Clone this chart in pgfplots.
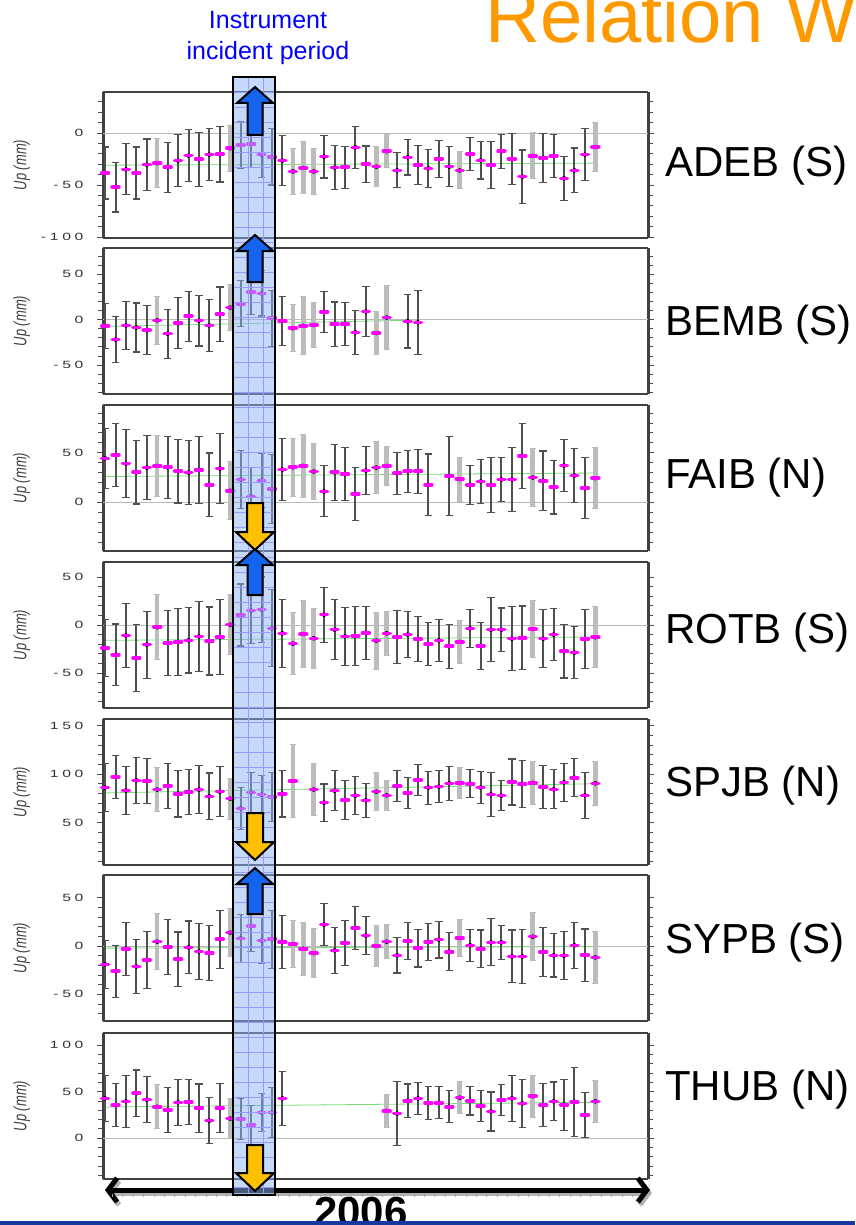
\documentclass[border=0pt]{standalone}
\usepackage{fontspec}
\setmainfont{Liberation Sans}
\newfontfamily\tickfam[FakeStretch=1.5,LetterSpace=35]{Liberation Sans}
\newfontfamily\labfam[FakeStretch=0.72]{Liberation Sans}
\usepackage{pgfplots}
\pgfplotsset{compat=1.18}
\usepackage{pgfplotstable}
\usetikzlibrary{arrows.meta}
\definecolor{upblue}{RGB}{20,100,240}
\definecolor{dnorange}{RGB}{255,192,0}
\definecolor{bandblue}{RGB}{140,180,245}
\definecolor{errdark}{RGB}{80,80,80}
\definecolor{errlight}{RGB}{188,188,188}
\definecolor{fitgreen}{RGB}{120,220,120}
\definecolor{titleorange}{RGB}{255,153,0}
\definecolor{slideblue}{RGB}{25,55,160}
\definecolor{mag}{RGB}{255,0,255}
\definecolor{txtblue}{RGB}{0,0,255}

\pgfplotstableread{
i v e g
0 -38.5 25 0
1 -52 24 0
2 -35 24.5 0
3 -38.5 25 0
4 -30.5 24.7 0
5 -29 23.5 1
6 -33 24 0
7 -26.6 25 0
8 -21.8 25 0
9 -25.3 26 0
10 -20.8 24.7 0
11 -20.5 26.6 0
12 -14.7 22 1
13 -11.5 22.6 0
14 -10.6 22.6 0
15 -20.8 22 0
16 -23 27 0
17 -26.6 24 0
18 -37 22 1
19 -33.6 25 1
20 -37 22 1
21 -22.8 20.5 0
22 -33.3 21 0
23 -33 20 0
24 -13.8 20 0
25 -30 17.5 0
26 -32.4 19.5 1
27 -17.6 15.7 1
28 -36 16.8 0
29 -23.4 17 0
30 -31 18.6 0
31 -34 18.3 0
32 -25 18 0
33 -32.4 19 0
34 -36 17.8 1
35 -20.5 16 0
36 -26.3 18 0
37 -31 22.7 0
38 -17.6 16.3 0
39 -25 24.8 0
40 -42 25.6 0
41 -22 22 1
42 -24 23.7 0
43 -22 20.5 0
44 -43.6 21 0
45 -36 21.5 0
46 -20.8 25 0
47 -13.5 23.5 1
}\dA

\pgfplotstableread{
i v e g
0 -6.8 25 0
1 -22 25.4 0
2 -6.4 26.7 0
3 -8.7 27 0
4 -11.7 27 0
5 -0.8 26.3 1
6 -15.5 27 0
7 -3.8 28 0
8 3.8 27.5 0
9 -1.1 28 0
10 -6.4 29 0
11 6 30 0
12 13.3 25 1
13 17.4 25.4 0
14 30.3 25 0
15 29 25 0
16 1.5 30.7 0
17 -1.5 27 0
18 -9.5 26 1
19 -6.8 32 1
20 -6 25 1
21 8.7 22.7 0
22 -4.9 24.4 0
23 -4.9 24 0
24 -14 24.4 0
25 9 28 0
26 -14.8 24 1
27 2.3 35.6 1
29 -1.9 29.4 0
30 -3 35 0
}\dB

\pgfplotstableread{
i v e g
0 44.3 30 0
1 47.7 31.3 0
2 39 34 0
3 30.3 32 0
4 35 32 0
5 36.7 31 1
6 35.3 31 0
7 31.3 32 0
8 30 32 0
9 32.7 34 0
10 17.7 32 0
11 34 35 0
12 11.7 29 1
13 23 29 0
14 6 29 0
15 22 27.5 0
16 13.3 35 0
17 33 31.3 0
18 35.3 29 1
19 36.7 32 1
20 31 28.3 1
21 11 25.7 0
22 30.3 28 0
23 28.3 26.7 0
24 8.3 27 0
25 32 24.5 0
26 35 26 1
27 36.7 20 1
28 29.3 21 0
29 31.3 21 0
30 31.3 22.3 0
31 17.7 31 0
33 26.3 39.7 0
34 23.3 22 1
35 17.7 19.7 0
36 21 22 0
37 17.7 27.5 0
38 23 22 0
39 23 32.5 0
40 46.7 32.7 0
41 25 29.3 1
42 21.7 30 0
43 15.3 27 0
44 37 26 0
45 27 27 0
46 14.3 31 0
47 24.3 31 1
}\dC

\pgfplotstableread{
i v e g
0 -24 30 0
1 -31 32 0
2 -11 33 0
3 -34.4 35 0
4 -20.5 35 0
5 -2.4 34 1
6 -19 34 0
7 -17.7 35 0
8 -16 34 0
9 -12 36 0
10 -16.7 35.4 0
11 -12.8 39 0
12 0.3 31.4 1
13 10.4 32.3 0
14 15 34 0
15 16 34 0
16 -3.5 40 0
17 -8.7 35.6 0
18 -19.4 32.6 1
19 -9.4 35.4 1
20 -13.9 31 1
21 10.8 28.6 0
22 -4.9 31 0
23 -11.8 30.2 0
24 -11.5 30.7 0
25 -8.3 28 0
26 -16.3 29.7 1
27 -8.7 22.6 1
28 -12.5 28 0
29 -10 23.8 0
30 -14.6 23.4 0
31 -19.8 22.6 0
32 -16 21.7 0
33 -22.2 22.9 0
34 -17.7 22.6 1
35 -3.5 19.8 0
36 -21.9 24.3 0
37 -4.9 33.5 0
38 -4.9 22.6 0
39 -14.2 33 0
40 -13.5 33.3 0
41 -4.2 30 1
42 -14.2 30 0
43 -10 27.4 0
44 -27.4 27.8 0
45 -28.8 27 0
46 -14.6 31 0
47 -12.8 32 1
}\dD

\pgfplotstableread{
i v e g
0 86 25 0
1 97 22.3 0
2 83 25 0
3 93.5 23.7 0
4 93 23.4 0
5 84 22.8 1
6 87.6 23 0
7 79.7 24 0
8 81.4 23.5 0
9 84 25 0
10 77 24 0
11 81.8 26 0
12 74.6 21 1
13 64.6 21.8 0
14 81 20.6 0
15 78.7 19.8 0
16 76.3 25.4 0
17 79.7 24 0
18 92.8 37.8 1
20 84 26.8 1
21 70.5 19.2 0
22 82.8 20.8 0
23 73.2 19.8 0
24 77.7 19.4 0
25 72.9 17.4 0
26 81.8 19.4 1
27 78 15.3 1
28 87.6 16.3 0
29 80.4 16 0
30 94 16 0
31 86 17 0
32 87 16.8 0
33 90.4 17.7 0
34 90.7 15.8 1
35 90 14.3 0
36 86 16.5 0
37 79 23 0
38 77.7 15.5 0
39 91.8 23.7 0
40 89.7 24.4 0
41 91 22 1
42 86.6 21.8 0
43 84.2 20 0
44 91.4 19.4 0
45 96.2 19.6 0
46 78 23.7 0
47 90.4 22.7 1
}\dE

\pgfplotstableread{
i v e g
0 -19 25 0
1 -26 27 0
2 -2.8 27.4 0
3 -21.2 27.8 0
4 -14.6 29.5 0
5 4.5 28.8 1
6 -1 28.6 0
7 -13.5 28 0
8 -1.4 27.3 0
9 -5.6 29.3 0
10 -7.3 28.5 0
11 7 30 0
12 13.9 24.5 1
13 8 24.8 0
14 20.8 26 0
15 5.6 24 0
16 7 30 0
17 4.2 27.8 0
18 2.1 24.6 1
19 -2.8 27.4 1
20 -7.3 25.3 1
21 22.2 22 0
22 -4.5 24 0
23 3.1 22.9 0
24 18.7 22.7 0
25 10.8 20 0
26 0 21.7 1
27 4.5 17.4 1
28 -9.7 18.2 0
29 5.2 18.9 0
30 -2.1 19.6 0
31 4.2 19.6 0
32 6.6 19 0
33 -5.9 19.8 0
34 8.3 19 1
35 0.7 16.8 0
36 -2.8 19.4 0
37 3.8 24.3 0
38 3.8 17.9 0
39 -10.8 27.4 0
40 -10.8 28 0
41 9.7 24.6 1
42 -6.2 25.2 0
43 -9.7 22.4 0
44 -10 25 0
45 0.7 24 0
46 -9.4 27 0
47 -11.8 26.7 1
}\dF

\pgfplotstableread{
i v e g
0 42.7 25 0
1 35.5 23.5 0
2 39.5 27.7 0
3 48.2 25 0
4 41.3 24.6 0
5 33.7 23.5 1
6 30.4 24 0
7 38.4 25 0
8 38.8 24.6 0
9 32.2 26 0
10 18.8 25 0
11 32.2 26.5 0
12 21 21.7 1
13 20.3 21.9 0
14 13.8 21 0
15 27.5 20.3 0
16 27.5 26.6 0
17 42.7 29 0
27 29.3 18 1
28 26.4 34 0
29 40.2 18 0
30 42.7 17 0
31 37.7 17.4 0
32 38 17.4 0
33 33.7 17.4 0
34 43.5 17.4 1
35 40.2 15.4 0
36 34.4 16.8 0
37 28.6 21 0
38 41 16.7 0
39 42.7 25 0
40 37.3 25.7 0
41 45 22.6 1
42 35.5 23 0
43 39.5 20.8 0
44 35.9 27.4 0
45 39.1 37 0
46 24.6 24.4 0
47 39.5 22.6 1
}\dG

\pgfplotsset{
 panel/.style={
  scale only axis, width=545pt, height=146pt,
  xmin=-0.2, xmax=52.05, xtick=\empty,
  ytick distance=50, minor y tick num=4,
  tick align=outside, ytick pos=both, yticklabel pos=left,
  major tick length=6pt, minor tick length=5pt,
  tick style={black!70, line width=0.7pt},
  separate axis lines,
  x axis line style={black!75, line width=1.6pt},
  y axis line style={black!75, line width=3pt},
  /pgf/number format/assume math mode=true,
  yticklabel style={font=\tickfam\fontsize{10.5}{11}\selectfont, text=black!80, xshift=-10pt},
  ylabel={Up (mm)},
  every axis y label/.style={at={(axis description cs:-0.149,0.5)}, rotate=90, anchor=center, font=\labfam\itshape\fontsize{18}{18}\selectfont, text=black!75},
  unbounded coords=discard,
 },
 zeroline/.style={gray!55, line width=0.8pt, forget plot},
 fitline/.style={fitgreen, line width=0.8pt, forget plot},
 darkerr/.style={only marks, mark=none, forget plot,
   restrict expr to domain={\thisrow{g}}{-0.5:0.5},
   error bars/y dir=both, error bars/y explicit,
   error bars/error bar style={errdark, line width=2pt},
   error bars/error mark options={rotate=90, errdark, mark size=3.8pt, line width=1.1pt}},
 lighterr/.style={only marks, mark=none, forget plot,
   restrict expr to domain={\thisrow{g}}{0.5:1.5},
   error bars/y dir=both, error bars/y explicit,
   error bars/error bar style={errlight, line width=4.5pt},
   error bars/error mark options={rotate=90, errlight, mark size=3pt, line width=1pt}},
 pts/.style={only marks, color=mag, mark=-, mark size=3.4pt, mark options={draw=mag, line width=3.6pt, line cap=round}, forget plot},
}

\newcommand\Panel[5]{% top, ymin, ymax, table, fit coords
  \begin{axis}[panel, at={(103pt,-#1pt)}, anchor=north west, ymin=#2, ymax=#3]
  \addplot[zeroline] coordinates {(-0.2,0) (52.05,0)};
  \addplot[fitline] coordinates {#5};
  \addplot[lighterr] table[x=i,y=v,y error=e] {#4};
  \addplot[darkerr] table[x=i,y=v,y error=e] {#4};
  \addplot[pts] table[x=i,y=v] {#4};
  \end{axis}}

\newcommand\UpArr[2]{\filldraw[fill=upblue, draw=black, line width=2pt, line join=miter]
 ({247.5},{-#2}) -- ({247.5},{-#1-16}) -- ({237},{-#1-16}) -- ({255},{-#1}) -- ({273},{-#1-16}) -- ({262.5},{-#1-16}) -- ({262.5},{-#2}) -- cycle;}
\newcommand\DnArr[2]{\filldraw[fill=dnorange, draw=black, line width=2pt, line join=miter]
 ({247},{-#1}) -- ({247},{-#2+18}) -- ({236},{-#2+18}) -- ({255},{-#2}) -- ({274},{-#2+18}) -- ({263},{-#2+18}) -- ({263},{-#1}) -- cycle;}

\begin{document}
\begin{tikzpicture}[x=1pt,y=1pt]
\path[use as bounding box] (0,0) rectangle (855,-1225);

\Panel{92}{-101}{39.4}{\dA}{(0,-31) (47,-29)}
\Panel{248}{-82}{79}{\dB}{(0,-7.5) (30,-0.5)}
\Panel{405}{-49}{98}{\dC}{(0,26) (47,29.5)}
\Panel{562}{-86.5}{65.6}{\dD}{(0,-16) (47,-12.5)}
\Panel{719}{6.2}{156.7}{\dE}{(0,80.5) (47,90)}
\Panel{875}{-77.7}{73.6}{\dF}{(0,-2.2) (47,-0.6)}
\Panel{1033}{-44}{113}{\dG}{(0,33.5) (47,38.5)}

% bottom time arrow
\draw[gray!60, line width=5pt, {Straight Barb[length=9pt,width=24pt]}-{Straight Barb[length=9pt,width=24pt]}] (107,-1193) -- (652,-1193);
\draw[black, line width=5pt, {Straight Barb[length=9pt,width=24pt]}-{Straight Barb[length=9pt,width=24pt]}] (105,-1190) -- (650,-1190);
\draw[gray!70, line width=3pt, dash pattern=on 0.8pt off 9.6pt] (112,-1195) -- (640,-1195);

% band
\fill[bandblue, fill opacity=0.5] (233,-77) rectangle (275,-1195);
\begin{scope}
\clip (233,-77) rectangle (275,-1195);
\foreach \yy in {92,107,...,1192} \draw[blue!40, line width=0.4pt] (233,-\yy) -- (275,-\yy);
\draw[blue!40, line width=0.4pt] (248,-77) -- (248,-1195) (263,-77) -- (263,-1195);
\end{scope}
\draw[black, line width=2.5pt] (233,-77) rectangle (275,-1195);

\UpArr{87}{135}
\UpArr{235}{282}
\UpArr{549}{595}
\UpArr{868}{914}
\DnArr{503}{550}
\DnArr{813}{860}
\DnArr{1145}{1191}

% texts
\node[anchor=base, text=txtblue, font=\fontsize{25}{25}\selectfont, inner sep=0] at (268,-29) {Instrument};
\node[anchor=base, text=txtblue, font=\fontsize{25}{25}\selectfont, inner sep=0] at (268,-60) {incident period};
\node[anchor=base west, text=titleorange, font=\fontsize{76}{76}\selectfont, inner sep=0] at (485,-43) {Relation W};

\foreach \nm/\yy in {ADEB (S)/177, BEMB (S)/335, FAIB (N)/488, ROTB (S)/643, SPJB (N)/796, SYPB (S)/953, THUB (N)/1100}
  \node[anchor=base west, font=\fontsize{42}{42}\selectfont, inner sep=0] at (665,-\yy) {\nm};

\node[anchor=base west, font=\bfseries\fontsize{42}{42}\selectfont, inner sep=0] at (314,-1226) {2006};
\fill[slideblue] (0,-1221) rectangle (855,-1226);
\end{tikzpicture}
\end{document}
